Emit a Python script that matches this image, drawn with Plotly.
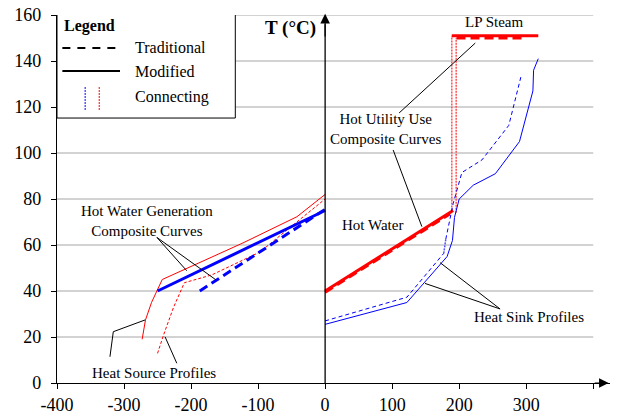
import plotly.graph_objects as go

# ---------------- data ----------------
# Heat source profiles (left, red)
src_mod_x = [-273, -268, -259, -243, -124, -42, 0]
src_mod_y = [19, 27.4, 35, 45, 60.7, 72.3, 82]
src_trad_x = [-250, -241, -226, -210, -169, -97, -57, 0]
src_trad_y = [12.9, 20.9, 33, 43.6, 47, 57, 66.5, 80]
# Hot water generation composite curves (left, blue)
hwg_mod_x = [-250, 0]
hwg_mod_y = [40, 75]
hwg_trad_x = [-187, 0]
hwg_trad_y = [40, 75.5]
# Hot water (right, red)
hw_mod_x = [0, 191]
hw_mod_y = [40, 75]
hw_trad_x = [0, 186]
hw_trad_y = [39.5, 73.5]
# LP steam
lps_mod_x = [189, 318]
lps_mod_y = [151, 151]
lps_trad_x = [196, 294]
lps_trad_y = [150, 150]
# Connecting (red dotted verticals)
con_mod_x = [189, 189]
con_mod_y = [75, 151]
con_trad_x = [195.5, 195.5]
con_trad_y = [74, 150]
# Connecting (blue dotted, traditional sink)
con_sink_x = [177, 180]
con_sink_y = [56.4, 62.5]
# Heat sink profiles (right, blue)
sink_mod_x = [0, 122, 182, 190, 193, 200, 221, 254, 290, 310, 311, 318]
sink_mod_y = [25.5, 35, 55, 62, 72, 80, 86, 91, 105, 127, 136, 141]
sink_trad_a_x = [0, 122, 177]
sink_trad_a_y = [27, 37.3, 56.4]
sink_trad_b_x = [180, 191, 204, 234, 274, 292]
sink_trad_b_y = [62.5, 78, 91.5, 97, 112, 133]

x_ticks = [-400, -300, -200, -100, 0, 100, 200, 300, 400]
x_labels = ["-400", "-300", "-200", "-100", "0", "100", "200", "300", ""]
y_ticks = [0, 20, 40, 60, 80, 100, 120, 140, 160]

RED = "#ff0000"
BLUE = "#0000ff"
FONT = "Liberation Serif, Times New Roman, DejaVu Serif, serif"

fig = go.Figure()

def add(x, y, color, width, dash="solid"):
    fig.add_trace(go.Scatter(x=x, y=y, mode="lines",
                             line=dict(color=color, width=width, dash=dash),
                             showlegend=False, hoverinfo="skip"))

add(src_mod_x, src_mod_y, RED, 1)
add(src_trad_x, src_trad_y, RED, 1, "3px,2px")
add(hwg_trad_x, hwg_trad_y, BLUE, 3, "9px,5px")
add(hwg_mod_x, hwg_mod_y, BLUE, 3)
add(con_mod_x, con_mod_y, "#ff5050", 1.5, "2px,1px")
add(con_trad_x, con_trad_y, "#ff5050", 1.5, "2px,1px")
add(hw_trad_x, hw_trad_y, RED, 3, "9px,5px")
add(hw_mod_x, hw_mod_y, RED, 3)
add(lps_trad_x, lps_trad_y, RED, 3, "9px,5px")
add(lps_mod_x, lps_mod_y, RED, 3)
add(sink_mod_x, sink_mod_y, BLUE, 1)
add(sink_trad_a_x, sink_trad_a_y, BLUE, 1, "4px,3px")
add(con_sink_x, con_sink_y, "#5050ff", 1.5, "2px,1px")
add(sink_trad_b_x, sink_trad_b_y, BLUE, 1, "4px,3px")

shapes = []
# grid lines
for v in y_ticks[1:]:
    shapes.append(dict(type="line", xref="x", yref="y", x0=-400, x1=400, y0=v, y1=v,
                       line=dict(color="#a6a6a6", width=1), layer="below"))
# vertical T axis at x=0
shapes.append(dict(type="line", xref="x", yref="y", x0=0, x1=0, y0=0, y1=156,
                   line=dict(color="black", width=1.3)))
# legend box
shapes.append(dict(type="rect", xref="x", yref="y", x0=-400, x1=-134, y0=115.2, y1=160.9,
                   line=dict(color="black", width=1), fillcolor="white"))
shapes.append(dict(type="line", xref="x", yref="y", x0=-392, x1=-306, y0=145.7, y1=145.7,
                   line=dict(color="black", width=2, dash="8px,7px")))
shapes.append(dict(type="line", xref="x", yref="y", x0=-392, x1=-306, y0=135.6, y1=135.6,
                   line=dict(color="black", width=2)))
shapes.append(dict(type="line", xref="x", yref="y", x0=-358, x1=-358, y0=118.7, y1=129.1,
                   line=dict(color=BLUE, width=1, dash="2px,1px")))
shapes.append(dict(type="line", xref="x", yref="y", x0=-337, x1=-337, y0=118.7, y1=129.1,
                   line=dict(color=RED, width=1, dash="2px,1px")))

# leader lines
leaders = [
    [(110.4, 117.4), (224, 147.8)],
    [(101.5, 101.3), (144.3, 68)],
    [(261, 32.2), (171.6, 52.3)],
    [(261, 32.2), (149, 43.3)],
    [(-251, 63.3), (-206.4, 48.8)],
    [(-251, 63.3), (-162.7, 44.8)],
    [(-321, 11.4), (-316, 22.3)],
    [(-316, 22.3), (-268.7, 27.4)],
    [(-221.3, 8.6), (-238.8, 20.1)],
]
for (a, b) in leaders:
    shapes.append(dict(type="line", xref="x", yref="y", x0=a[0], y0=a[1], x1=b[0], y1=b[1],
                       line=dict(color="black", width=1)))

ann = []
def txt(x, y, s, size=15, bold=False, xanchor="center", yanchor="middle"):
    ann.append(dict(x=x, y=y, xref="x", yref="y", text=("<b>%s</b>" % s) if bold else s,
                    showarrow=False, xanchor=xanchor, yanchor=yanchor,
                    font=dict(family=FONT, size=size, color="black")))

txt(-392, 155.2, "Legend", 16, True, "left")
txt(-286, 145.7, "Traditional", 16, False, "left")
txt(-286, 135.6, "Modified", 16, False, "left")
txt(-286, 124.5, "Connecting", 16, False, "left")
txt(-266, 70.4, "Hot Water Generation<br>Composite Curves", 15)
txt(-256, 4.5, "Heat Source Profiles", 15)
txt(89.6, 110.4, "Hot Utility Use<br>Composite Curves", 15)
txt(70, 68.7, "Hot Water", 15)
txt(304.5, 28.8, "Heat Sink Profiles", 15)
txt(252, 157, "LP Steam", 15)
txt(-10, 154.3, "T (°C)", 19, True, "right")
ann.append(dict(x=405, y=-9.6, xref="x", yref="y", text="<b>ΔH (MW)</b>", showarrow=False,
                xanchor="center", yanchor="middle", font=dict(family=FONT, size=19, color="black")))
# arrows
ann.append(dict(x=423, y=0, ax=400, ay=0, xref="x", yref="y", axref="x", ayref="y",
                showarrow=True, arrowhead=2, arrowsize=1.6, arrowwidth=1.2, arrowcolor="black", text=""))
ann.append(dict(x=0, y=160.5, ax=0, ay=150, xref="x", yref="y", axref="x", ayref="y",
                showarrow=True, arrowhead=2, arrowsize=1.6, arrowwidth=1.2, arrowcolor="black", text=""))

fig.update_layout(
    width=638, height=414,
    margin=dict(l=57, r=28, t=15, b=31, autoexpand=False),
    paper_bgcolor="white", plot_bgcolor="white",
    font=dict(family=FONT),
    shapes=shapes, annotations=ann,
    xaxis=dict(range=[-400, 425], tickvals=x_ticks, ticktext=x_labels, automargin=False,
               showgrid=False, zeroline=False, showline=True, linecolor="black", linewidth=1.3,
               ticks="outside", ticklen=5, tickcolor="black",
               tickfont=dict(family=FONT, size=18, color="black")),
    yaxis=dict(range=[0, 160], tickvals=y_ticks, automargin=False,
               showgrid=False, zeroline=False, showline=True, linecolor="black", linewidth=1.3,
               ticks="outside", ticklen=5, tickcolor="black", ticklabelstandoff=6,
               tickfont=dict(family=FONT, size=18, color="black")),
)

fig.write_html("out.html")
